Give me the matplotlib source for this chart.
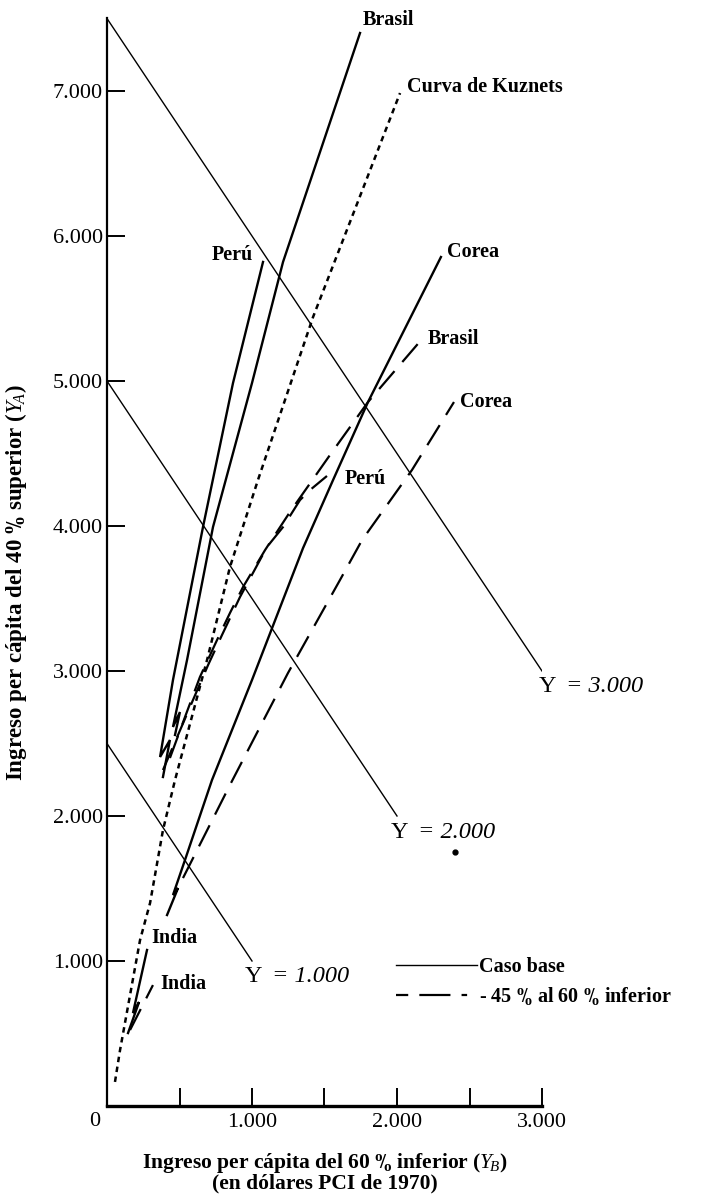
import matplotlib
matplotlib.use("Agg")
import matplotlib.pyplot as plt
from matplotlib.lines import Line2D
from matplotlib.ticker import FixedLocator, FuncFormatter

plt.rcParams['font.family'] = ['Liberation Serif', 'DejaVu Serif']
plt.rcParams['mathtext.fontset'] = 'custom'
plt.rcParams['mathtext.rm'] = 'Liberation Serif'
plt.rcParams['mathtext.it'] = 'Liberation Serif:italic'
plt.rcParams['mathtext.bf'] = 'Liberation Serif:bold'

# ---- data: per-capita income of bottom 60 % (YB) vs top 40 % (YA), 1970 ICP dollars ----
# Kuznets curve
kuznets_yb = [55, 90, 228, 297, 386, 469, 690, 848, 1041, 1421, 1676, 2021]
kuznets_ya = [166, 386, 1145, 1400, 1903, 2248, 3076, 3717, 4317, 5441, 6097, 6986]

# Base case trajectories (solid)
brasil_base_yb = [469, 503, 455, 552, 731, 1000, 1214, 1745]
brasil_base_ya = [2559, 2717, 2614, 3076, 3993, 4986, 5821, 7400]
peru_base_yb = [386, 434, 366, 455, 662, 869, 1076]
peru_base_ya = [2269, 2524, 2407, 2938, 3993, 4986, 5821]
corea_base_yb = [414, 490, 455, 538, 724, 1000, 1352, 1559, 1800, 2303]
corea_base_ya = [1317, 1503, 1455, 1697, 2248, 2938, 3848, 4317, 4855, 5855]
india_base_yb = [145, 221, 179, 276]
india_base_ya = [503, 717, 641, 1076]

# 45 % to the bottom 60 % scenario (dashed)
brasil_alt_yb = [434, 538, 641, 759, 848, 938, 1090, 1262, 1538, 1800, 2179]
brasil_alt_ya = [2400, 2683, 2959, 3214, 3400, 3579, 3834, 4097, 4490, 4855, 5297]
peru_alt_yb = [386, 490, 593, 697, 793, 917, 1103, 1214, 1331, 1400, 1517]
peru_alt_ya = [2317, 2559, 2800, 3041, 3248, 3510, 3855, 3993, 4179, 4248, 4345]
corea_alt_yb = [524, 848, 1248, 1607, 1759, 2103, 2393]
corea_alt_ya = [1572, 2214, 2986, 3628, 3903, 4386, 4855]
india_alt_yb = [159, 317]
india_alt_ya = [524, 834]

# Total income isolines Y = 1.000, 2.000, 3.000
iso_levels = ["1.000", "2.000", "3.000"]
iso_yb = [[0, 1000], [0, 2000], [0, 3000]]
iso_ya = [[2500, 1000], [5000, 2000], [7500, 3000]]

stray_dot = (2400, 1750)

x_ticks_major = [1000, 2000, 3000]
x_ticks_minor = [500, 1500, 2500]
y_ticks = [1000, 2000, 3000, 4000, 5000, 6000, 7000]

# ---- figure ----
fig = plt.figure(figsize=(7.01, 11.95), dpi=100)
ax = fig.add_axes([107 / 701, 1 - 1106 / 1195, 435 / 701, 1087.5 / 1195])
ax.set_xlim(0, 3000)
ax.set_ylim(0, 7500)

for s in ("top", "right"):
    ax.spines[s].set_visible(False)
ax.spines["left"].set_linewidth(1.6)
ax.spines["bottom"].set_linewidth(2.4)

thou = FuncFormatter(lambda v, p: f"{v:,.0f}".replace(",", "."))
ax.xaxis.set_major_locator(FixedLocator(x_ticks_major))
ax.xaxis.set_minor_locator(FixedLocator(x_ticks_minor))
ax.yaxis.set_major_locator(FixedLocator(y_ticks))
ax.xaxis.set_major_formatter(thou)
ax.yaxis.set_major_formatter(thou)
ax.tick_params(axis="both", which="both", direction="in", length=13, width=1.4, labelsize=16)
ax.tick_params(axis="x", pad=5)
ax.tick_params(axis="y", pad=3)
ax.annotate("0", xy=(0, 0), xytext=(-8.6, -10.8), textcoords="offset points",
            ha="center", va="center", fontsize=16, annotation_clip=False)

pct = r"$^{\mathbf{o}}\!\mathbf{/}\!_{\mathbf{o}}$"
ax.set_ylabel("Ingreso per cápita del 40 " + pct + r" superior ($Y_{\!A}$)",
              fontsize=16.5, fontweight="bold")
ax.yaxis.set_label_coords(-0.18, 0.481)
ax.set_xlabel("Ingreso per cápita del 60 " + pct + r" inferior ($Y_{\!B}$)" + "\n(en dólares PCI de 1970)",
              fontsize=15.5, fontweight="bold", linespacing=0.9)
ax.xaxis.set_label_coords(0.5, -0.041)

# isolines
for xs, ys in zip(iso_yb, iso_ya):
    ax.plot(xs, ys, color="black", lw=1.0)

solid_kw = dict(color="black", lw=1.7, solid_joinstyle="miter")
dash_kw = dict(color="black", lw=1.6, linestyle=(0, (10.6, 5.4)), dash_joinstyle="miter")

ax.plot(kuznets_yb, kuznets_ya, color="black", lw=1.8, linestyle=(0, (2.2, 1.8)))
for xs, ys in [(brasil_base_yb, brasil_base_ya), (peru_base_yb, peru_base_ya),
               (corea_base_yb, corea_base_ya), (india_base_yb, india_base_ya)]:
    ax.plot(xs, ys, **solid_kw)
for xs, ys in [(brasil_alt_yb, brasil_alt_ya), (peru_alt_yb, peru_alt_ya),
               (corea_alt_yb, corea_alt_ya), (india_alt_yb, india_alt_ya)]:
    ax.plot(xs, ys, **dash_kw)

ax.plot(*stray_dot, marker="o", ms=3.5, color="black")


def tag(xs, ys, text, dx, dy, ha="left", **kw):
    ax.annotate(text, xy=(xs[-1], ys[-1]), xytext=(dx, dy), textcoords="offset points",
                ha=ha, va="center", annotation_clip=False, **kw)


bold = dict(fontsize=14.5, fontweight="bold")
tag(brasil_base_yb, brasil_base_ya, "Brasil", 2, 9, **bold)
tag(kuznets_yb, kuznets_ya, "Curva de Kuznets", 5, 4.3, **bold)
tag(peru_base_yb, peru_base_ya, "Perú", -7, 5, ha="right", **bold)
tag(corea_base_yb, corea_base_ya, "Corea", 4.3, 3.6, **bold)
tag(brasil_alt_yb, brasil_alt_ya, "Brasil", 3.6, -0.7, **bold)
tag(corea_alt_yb, corea_alt_ya, "Corea", 4.3, 0, **bold)
tag(peru_alt_yb, peru_alt_ya, "Perú", 13, -2, **bold)
tag(india_base_yb, india_base_ya, "India", 3, 8.6, **bold)
tag(india_alt_yb, india_alt_ya, "India", 5, 0.7, **bold)

# isoline labels: upright "Y", italic "= value"
iso_offsets = [(-5, -11.5), (-4.3, -12.2), (-2.2, -10.8)]
for lvl, xs, ys, (dx, dy) in zip(iso_levels, iso_yb, iso_ya, iso_offsets):
    tag(xs, ys, "Y", dx, dy, fontsize=17.5)
    tag(xs, ys, "= " + lvl, dx + 19.5, dy, fontsize=17.5, style="italic")

handles = [Line2D([], [], color="black", lw=1.0),
           Line2D([], [], color="black", lw=1.6, dashes=(5.5, 5.0, 14.0, 5.0, 2.5, 40))]
ax.legend(handles, ["Caso base", "- 45 " + pct + " al 60 " + pct + " inferior"],
          loc="upper left", bbox_to_anchor=(396 / 701, 1 - 957 / 1195),
          bbox_transform=fig.transFigure, frameon=False, borderpad=0, borderaxespad=0,
          handlelength=4.0, handletextpad=0.1, labelspacing=0.4,
          prop={"family": "Liberation Serif", "weight": "bold", "size": 14.5})

fig.savefig("out.png", dpi=100)
